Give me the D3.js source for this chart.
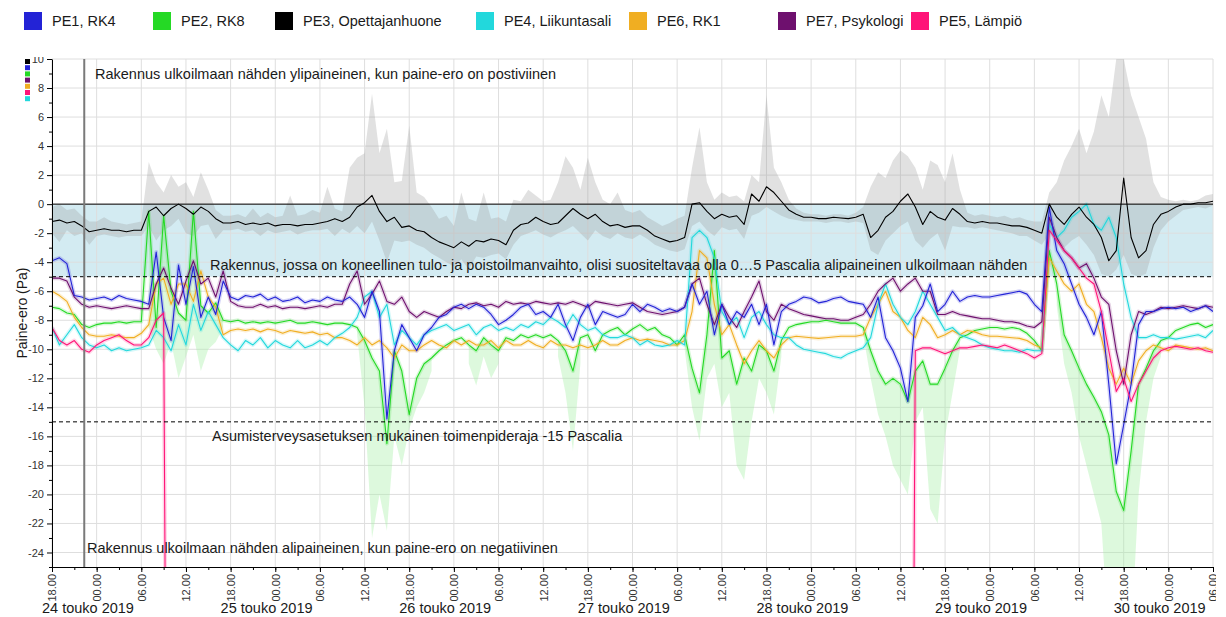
<!DOCTYPE html>
<html>
<head>
<meta charset="utf-8">
<script src="https://cdn.jsdelivr.net/npm/d3@7"></script>
<style>
body { margin: 0; background: #fff; }
svg { font-family: "Liberation Sans", Arial, sans-serif; }
</style>
</head>
<body>
<svg id="chart" width="1226" height="617"></svg>
<script>
// hourly readings (Pa), first value at 24.5.2019 18:00
const startTime = new Date(2019, 4, 24, 18);
const endTime = new Date(2019, 4, 31, 6);

const seriesNames = ["PE1, RK4", "PE2, RK8", "PE3, Opettajanhuone", "PE4, Liikuntasali", "PE6, RK1", "PE7, Psykologi", "PE5, Lämpiö"];
const seriesColors = ["#2323d6", "#25d925", "#000000", "#22d8dc", "#f0ae22", "#6e106e", "#ff1478"];

const pe1 = [
  -3.9,-3.7,-4.1,-6.3,-6.4,-6.6,-6.5,-6.4,-6.6,-6.3,-6.5,-6.6,
  -6.7,-6.9,-3.3,-7.8,-9.4,-4.2,-6.9,-4.3,-7.8,-6.4,-7.6,-5.3,
  -6.4,-6.6,-6.3,-6.4,-6.2,-6.6,-6.4,-6.7,-6.6,-6.4,-6.8,-6.6,
  -6.7,-6.4,-6.6,-6.7,-6.4,-6.9,-7.8,-6.0,-7.4,-14.8,-10.1,-8.3,
  -9.2,-10.1,-9.0,-8.5,-7.8,-7.6,-7.1,-6.9,-7.2,-6.9,-7.1,-7.6,
  -8.3,-8.0,-7.6,-7.1,-6.9,-7.6,-7.4,-7.8,-6.9,-8.3,-9.4,-7.8,
  -6.9,-8.3,-7.4,-7.6,-7.8,-7.6,-6.9,-7.4,-6.9,-7.1,-7.4,-7.2,
  -7.4,-7.1,-5.5,-6.9,-6.0,-9.0,-6.9,-8.3,-7.4,-7.8,-6.9,-8.3,
  -6.9,-9.7,-7.4,-6.9,-6.7,-6.4,-6.5,-6.8,-6.7,-6.5,-6.4,-6.7,
  -6.8,-6.9,-7.8,-6.4,-9.2,-10.1,-11.3,-13.6,-7.8,-7.0,-5.5,-7.4,
  -6.9,-6.0,-6.7,-6.4,-6.3,-6.4,-6.4,-6.3,-6.2,-6.1,-6.0,-6.2,
  -6.9,-7.4,-0.2,-3.2,-4.1,-5.5,-6.9,-7.8,-9.0,-7.4,-12.4,-17.9,
  -15.2,-12.4,-8.3,-7.4,-7.4,-7.2,-7.1,-7.2,-7.1,-7.4,-7.2,-7.0,
  -7.4
];
const pe2 = [
  -7.1,-7.2,-7.5,-7.6,-8.3,-8.5,-8.3,-8.2,-8.2,-8.1,-8.2,-8.1,
  -8.1,-0.5,-8.5,-0.8,-6.0,-7.5,-8.0,-0.5,-7.0,-7.5,-6.8,-8.0,
  -8.1,-8.0,-8.2,-8.1,-8.2,-8.1,-8.2,-8.1,-8.0,-8.2,-8.2,-8.1,
  -8.2,-8.3,-8.2,-8.2,-8.3,-8.5,-9.4,-10.6,-11.5,-16.5,-10.1,-11.5,
  -14.5,-12.0,-11.0,-10.6,-10.1,-9.7,-9.4,-9.2,-9.7,-10.1,-9.2,-9.7,
  -10.1,-9.2,-9.4,-9.0,-9.2,-9.0,-9.2,-9.0,-9.4,-10.1,-11.5,-9.2,
  -9.0,-10.1,-9.0,-8.7,-8.5,-9.0,-8.6,-8.3,-8.7,-8.5,-9.0,-9.2,
  -9.7,-9.0,-11.3,-13.0,-9.0,-3.2,-10.6,-10.1,-12.4,-10.6,-11.5,-9.7,
  -10.1,-11.5,-9.4,-8.5,-8.3,-8.2,-8.1,-8.1,-8.0,-8.1,-8.2,-8.2,
  -8.2,-8.5,-10.1,-11.5,-12.4,-12.0,-12.4,-13.6,-11.5,-10.8,-12.4,-12.4,
  -11.3,-10.1,-9.2,-9.0,-8.7,-8.6,-8.5,-8.5,-8.6,-8.5,-8.6,-8.9,
  -9.4,-10.1,-3.2,-5.5,-9.0,-10.1,-11.3,-12.4,-13.3,-14.3,-15.9,-19.8,
  -21.1,-17.0,-12.4,-11.3,-10.1,-9.4,-9.2,-8.7,-8.5,-8.3,-8.2,-8.5,
  -8.3
];
const pe3 = [
  -1.2,-1.1,-1.3,-1.2,-1.5,-1.9,-1.8,-1.7,-1.8,-1.8,-1.9,-1.8,
  -1.8,-0.5,-0.2,-0.8,-0.3,0.0,-0.3,-0.7,-0.2,-0.5,-1.0,-1.3,
  -1.3,-1.2,-1.4,-1.3,-1.4,-1.3,-1.5,-1.4,-1.4,-1.5,-1.4,-1.4,
  -1.3,-1.2,-1.0,-1.2,-0.9,-0.2,0.1,0.6,-0.5,-1.2,-0.9,-1.6,
  -1.5,-1.8,-1.9,-2.3,-2.6,-2.8,-3.0,-2.6,-2.9,-2.5,-2.6,-2.4,
  -2.5,-2.8,-1.8,-1.4,-1.3,-0.9,-1.2,-1.4,-1.3,-0.8,-0.3,-0.7,
  -1.0,-0.7,-1.2,-1.5,-1.4,-1.6,-1.5,-1.5,-1.8,-2.2,-2.4,-2.6,
  -2.5,-2.3,0.0,0.1,-0.5,-1.0,-0.7,-0.9,-0.8,-1.4,0.7,0.2,
  1.2,0.8,0.2,-0.4,-0.7,-0.9,-0.9,-1.0,-1.0,-0.9,-0.95,-1.0,
  -0.9,-0.7,-2.3,-1.8,-0.9,-0.5,0.2,0.7,-0.2,-1.4,-0.5,-0.9,
  -1.1,-0.3,-0.7,-1.2,-1.3,-1.2,-1.3,-1.3,-1.4,-1.5,-1.5,-1.6,
  -1.8,-2.0,0.0,-0.9,-1.4,-0.7,-0.2,-0.9,-1.4,-2.3,-3.9,-3.2,
  1.8,-2.3,-3.7,-3.2,-1.4,-0.7,-0.5,-0.2,0.0,0.0,0.1,0.1,
  0.2
];
// PE3 hourly maximum and minimum
const pe3Hi = [
  -0.2,0.0,-0.4,-0.3,-0.8,-1.2,-1.2,-0.9,-1.2,-1.3,-1.4,-1.3,
  -1.2,2.9,1.5,0.8,2.0,1.2,1.5,0.5,2.2,1.0,-0.4,-0.8,
  -0.8,-0.7,-0.9,-0.3,-0.9,-0.6,-0.9,-0.8,0.6,-0.8,-0.7,-0.4,
  -0.6,1.2,-0.3,-0.5,2.5,3.2,3.5,7.6,3.5,5.2,1.5,1.6,
  5.4,0.8,0.5,-0.2,-1.0,-0.8,-1.5,0.8,-1.0,-1.2,0.8,-1.0,
  -0.9,-1.2,0.3,0.2,1.0,0.6,0.2,0.3,1.5,3.3,2.5,1.0,
  3.2,1.5,0.3,0.0,0.8,-0.4,-0.6,-0.4,-0.9,-1.2,-1.5,-1.3,
  -1.0,-0.8,2.5,5.3,1.5,0.3,0.8,0.5,0.6,0.2,2.0,1.5,
  7.5,2.5,1.5,0.3,-0.3,-0.6,-0.7,-0.7,-0.8,-0.7,-0.7,-0.8,
  -0.6,-0.2,1.2,2.2,1.8,3.0,3.7,3.3,2.5,1.0,3.0,2.7,
  1.5,3.5,1.0,-0.6,-0.8,-0.7,-0.8,-0.9,-0.8,-1.0,-0.9,-1.1,
  -1.2,-1.2,0.8,1.5,3.0,4.0,5.2,3.5,5.0,7.5,6.0,10.0,
  10.0,7.5,6.0,4.5,1.5,0.5,0.3,0.2,0.3,0.2,0.3,0.6,
  0.7
];
const pe3Lo = [
  -2.0,-2.6,-1.8,-2.2,-2.0,-2.8,-2.2,-2.1,-2.2,-2.3,-2.2,-2.2,
  -2.2,-1.5,-2.5,-1.8,-1.5,-1.0,-2.0,-2.2,-1.5,-1.4,-2.4,-1.8,
  -1.8,-1.7,-1.9,-1.8,-2.2,-1.8,-2.0,-1.9,-1.8,-2.1,-1.9,-1.8,
  -1.8,-1.7,-2.2,-1.7,-2.0,-1.5,-2.0,-1.2,-2.5,-4.0,-2.5,-2.6,
  -2.5,-2.8,-3.0,-3.4,-3.7,-4.0,-4.3,-3.8,-4.5,-3.6,-3.7,-3.5,
  -3.4,-3.8,-2.8,-2.2,-2.0,-1.8,-2.1,-2.3,-2.0,-1.8,-1.5,-2.0,
  -2.5,-1.8,-2.2,-2.4,-2.0,-2.3,-2.4,-2.1,-2.4,-2.8,-3.0,-3.2,
  -3.3,-3.1,-1.5,-1.2,-1.8,-2.2,-1.6,-1.8,-1.7,-2.4,-0.8,-0.6,
  -0.2,-0.5,-0.8,-1.0,-1.1,-1.2,-1.2,-1.2,-1.3,-1.2,-1.2,-1.3,
  -1.2,-1.3,-3.2,-3.5,-2.5,-2.0,-1.5,-1.2,-2.5,-3.0,-2.4,-2.0,
  -3.2,-1.5,-1.6,-1.6,-1.7,-1.6,-1.7,-1.8,-1.9,-2.0,-2.2,-2.2,
  -2.5,-2.8,-2.0,-2.5,-3.0,-2.5,-2.2,-2.8,-3.5,-4.8,-5.0,-4.5,
  -3.5,-4.8,-5.0,-4.8,-3.0,-1.8,-1.2,-0.8,-0.4,-0.3,-0.2,-0.3,
  -0.1
];
const pe4 = [
  -8.5,-9.7,-9.0,-8.3,-9.2,-9.7,-9.9,-9.7,-10.1,-9.9,-10.1,-10.0,
  -9.9,-9.7,-8.7,-9.2,-10.1,-8.3,-9.7,-6.9,-8.7,-7.4,-8.3,-9.2,
  -9.7,-10.1,-9.4,-9.7,-9.2,-9.9,-9.4,-9.7,-9.9,-9.4,-9.9,-9.7,
  -9.4,-9.7,-9.2,-8.9,-8.5,-7.8,-6.4,-6.0,-7.8,-6.9,-9.7,-8.7,
  -9.2,-9.7,-9.0,-8.7,-8.5,-8.3,-8.7,-8.5,-8.3,-9.0,-8.5,-8.3,
  -8.7,-8.5,-8.7,-8.3,-8.5,-8.1,-8.3,-7.8,-8.1,-8.5,-7.6,-8.3,
  -8.7,-8.5,-9.0,-9.2,-9.2,-9.0,-9.2,-9.7,-9.4,-9.7,-9.8,-9.7,
  -9.4,-9.7,-2.3,-1.8,-2.3,-3.7,-7.4,-8.3,-7.8,-9.2,-7.8,-7.4,
  -8.3,-9.0,-9.2,-9.2,-9.7,-10.0,-10.1,-10.2,-10.3,-10.5,-10.6,-10.3,
  -10.1,-9.9,-9.2,-6.9,-5.5,-6.9,-7.8,-8.3,-7.4,-6.0,-6.9,-7.8,
  -8.7,-8.5,-9.0,-9.2,-9.4,-9.7,-9.9,-10.0,-10.1,-10.1,-10.2,-10.0,
  -10.1,-10.1,-1.4,-2.3,-1.8,-0.9,-0.5,0.0,-1.4,-1.8,-0.9,-2.3,
  -5.5,-7.8,-9.2,-9.2,-9.0,-9.2,-9.2,-9.3,-9.2,-9.1,-9.0,-9.2,
  -8.7
];
const pe6 = [
  -6.0,-6.3,-6.7,-7.8,-8.5,-9.0,-9.1,-9.1,-9.0,-9.1,-9.2,-9.2,
  -8.9,-8.3,-5.5,-5.1,-6.9,-5.5,-5.5,-6.7,-4.6,-6.4,-7.1,-9.0,
  -8.7,-8.6,-8.7,-8.6,-8.8,-8.6,-8.7,-8.9,-8.7,-8.8,-8.9,-8.8,
  -9.0,-8.9,-9.2,-9.2,-9.4,-9.7,-9.2,-9.7,-9.4,-9.9,-10.6,-9.7,
  -10.1,-10.1,-9.7,-9.4,-9.7,-9.9,-9.4,-9.7,-9.4,-9.7,-9.7,-9.4,
  -9.9,-9.4,-9.7,-9.7,-9.4,-9.7,-9.9,-9.4,-9.7,-9.7,-9.9,-9.7,
  -9.9,-9.7,-9.4,-9.7,-9.7,-9.4,-9.2,-9.4,-9.3,-9.4,-9.5,-9.7,
  -9.7,-9.4,-7.4,-3.2,-3.7,-6.9,-9.0,-8.3,-9.7,-11.0,-10.1,-9.4,
  -10.1,-10.6,-9.7,-9.2,-9.1,-9.15,-9.2,-9.25,-9.2,-9.15,-9.1,-9.1,
  -9.1,-9.0,-7.8,-6.9,-6.0,-7.4,-7.8,-8.7,-9.2,-7.8,-8.3,-9.2,
  -9.0,-8.7,-9.0,-8.7,-8.8,-9.0,-9.1,-9.1,-9.15,-9.2,-9.25,-9.4,
  -9.7,-9.9,-3.7,-4.6,-5.5,-6.0,-5.5,-6.9,-7.4,-9.2,-11.3,-12.4,
  -11.3,-12.4,-10.8,-10.1,-9.7,-9.9,-10.1,-9.7,-9.8,-9.9,-10.0,-9.9,
  -10.1
];
const pe7 = [
  -5.1,-5.1,-5.3,-6.4,-6.9,-7.1,-7.0,-7.1,-7.2,-7.1,-7.0,-7.1,
  -7.2,-7.2,-5.5,-4.4,-5.8,-6.9,-5.3,-3.9,-5.5,-5.1,-6.4,-4.6,
  -6.7,-7.0,-7.1,-7.1,-6.9,-7.1,-7.0,-7.2,-7.1,-7.1,-7.2,-7.1,
  -7.0,-7.1,-6.9,-6.9,-5.5,-4.6,-6.9,-6.2,-5.3,-6.7,-6.9,-6.4,
  -7.4,-7.8,-7.4,-7.6,-7.8,-7.4,-7.1,-7.2,-6.9,-6.8,-7.0,-6.9,
  -7.1,-6.7,-6.9,-6.8,-6.9,-6.7,-6.8,-6.9,-6.8,-6.9,-6.7,-6.9,
  -7.1,-6.7,-6.8,-6.9,-7.0,-6.9,-6.8,-7.1,-7.4,-7.5,-7.6,-7.5,
  -7.4,-7.1,-5.5,-5.1,-6.9,-8.3,-6.9,-7.8,-8.5,-7.4,-6.4,-5.3,
  -7.4,-8.0,-6.9,-7.2,-7.4,-7.6,-7.7,-7.8,-7.9,-7.9,-8.0,-8.0,
  -7.8,-7.6,-6.9,-6.0,-5.5,-5.1,-6.0,-5.5,-5.1,-6.0,-6.0,-7.6,
  -7.6,-7.4,-7.6,-7.7,-7.8,-7.9,-7.9,-8.0,-8.1,-8.1,-8.2,-8.4,
  -8.5,-8.1,-0.9,-2.3,-3.2,-3.7,-4.4,-4.1,-5.1,-6.4,-6.9,-10.1,
  -12.4,-9.0,-7.4,-7.6,-7.4,-7.1,-7.2,-7.1,-7.0,-7.1,-7.2,-7.0,
  -7.1
];
// PE5 drops out of range between the two parts
const pe5Part1 = [-8.5,-9.4,-9.7,-9.4,-10.0,-10.2,-9.7,-9.4,-9.2,-9.0,-9.4,-9.7,-9.7,-9.2,-8.0,-7.5,-100];
const pe5Part2Start = 115;
const pe5Part2 = [
  -100,-10.1,-9.9,-9.9,-10.1,-10.3,-10.1,-9.9,-9.9,-9.8,-9.7,-9.8,-9.9,-9.7,-9.9,-10.1,-10.3,
  -10.6,-10.3,-1.8,-2.5,-3.2,-3.7,-4.4,-5.1,-5.5,-7.4,-10.1,-12.9,-12.0,-13.6,-12.4,-11.5,
  -10.6,-10.1,-9.9,-9.8,-9.9,-10.0,-9.9,-10.1,-10.2
];
// PE2 hourly minimum during the dips
const pe2LowStarts = [13, 41, 56, 68, 85, 109, 135];
const pe2LowValues = [
  [-8.5,-10.0,-11.0,-9.5,-12.0,-10.5,-9.0,-11.5,-10.0,-9.5,-8.5],
  [-9.0,-14.0,-23.0,-20.0,-22.5,-16.0,-18.0,-15.5,-14.0,-13.0,-11.5],
  [-11.0,-12.5,-10.5,-12.0,-11.0],
  [-10.5,-13.0,-17.0,-11.0],
  [-10.0,-14.0,-16.3,-12.0,-11.0,-14.0,-13.0,-18.0,-19.0,-15.0,-12.0,-13.0,-14.5,-10.5],
  [-9.0,-12.0,-14.5,-16.0,-18.0,-19.0,-20.0,-15.0,-14.0,-21.0,-22.0,-16.0,-13.0,-10.0],
  [-7.0,-11.0,-13.0,-16.0,-18.0,-20.0,-22.0,-30.0,-30.0,-30.0,-30.0,-20.0,-15.0,-12.0,-10.5]
];

const markerTime = new Date(2019, 4, 24, 22, 20);
const refLines = [0, -5, -15];
const dayLabels = [24, 25, 26, 27, 28, 29, 30];
const monthLabel = "touko 2019";
const notes = [
  "Rakennus ulkoilmaan nähden ylipaineinen, kun paine-ero on postiviinen",
  "Rakennus, jossa on koneellinen tulo- ja poistoilmanvaihto, olisi suositeltavaa olla 0…5 Pascalia alipaineinen ulkoilmaan nähden",
  "Asumisterveysasetuksen mukainen toimenpideraja -15 Pascalia",
  "Rakennus ulkoilmaan nähden alipaineinen, kun paine-ero on negatiivinen"
];

// layout
const legendX = [24, 153, 275, 476, 629, 778, 911];
const notePos = [[95, 79], [210, 270], [212, 441], [87, 553]];
const miniKeyOrder = [2, 0, 1, 5, 4, 6, 3];
const drawOrder = [1, 4, 3, 5, 0, 6];

const svg = d3.select("#chart");
const plotLeft = 52, plotRight = 1213, plotTop = 59, plotBottom = 567;

const x = d3.scaleTime().domain([startTime, endTime]).range([plotLeft, plotRight]);
const y = d3.scaleLinear().domain([-25, 10]).range([plotBottom, plotTop]);
const hourAt = t => d3.timeHour.offset(startTime, t);

const defs = svg.append("defs");
defs.append("clipPath").attr("id", "plotClip").append("rect")
  .attr("x", plotLeft).attr("y", plotTop).attr("width", plotRight - plotLeft).attr("height", plotBottom - plotTop);
defs.append("clipPath").attr("id", "yClip").append("rect")
  .attr("x", 0).attr("y", 57).attr("width", plotLeft + 2).attr("height", 540);
defs.append("clipPath").attr("id", "xClip").append("rect")
  .attr("x", 0).attr("y", plotBottom - 2).attr("width", 1216).attr("height", 60);

// band 0..-5
svg.append("rect")
  .attr("x", plotLeft).attr("y", y(0))
  .attr("width", plotRight - plotLeft).attr("height", y(-5) - y(0))
  .attr("fill", "#d3ebf2");

// grid
const grid = svg.append("g");
grid.selectAll(".vg").data(x.ticks(d3.timeHour.every(6))).join("line")
  .attr("x1", d => x(d)).attr("x2", d => x(d))
  .attr("y1", plotTop).attr("y2", plotBottom)
  .attr("stroke", "#dedede").attr("stroke-width", 1);
grid.selectAll(".hg").data(d3.range(-24, 11, 2)).join("line")
  .attr("x1", plotLeft).attr("x2", plotRight)
  .attr("y1", d => y(d)).attr("y2", d => y(d))
  .attr("stroke", "#dedede").attr("stroke-width", 1);

const plot = svg.append("g").attr("clip-path", "url(#plotClip)");

// PE3 min/max envelope
const pe3Env = pe3Hi.map((h, i) => ({t: hourAt(i), hi: h, lo: pe3Lo[i]}));
plot.append("path")
  .datum(pe3Env)
  .attr("fill", "#9a9a9a").attr("fill-opacity", 0.3)
  .attr("d", d3.area().x(d => x(d.t)).y0(d => y(d.lo)).y1(d => y(d.hi)));

// PE2 low envelope
pe2LowStarts.forEach((s, k) => {
  const pts = pe2LowValues[k].map((lo, i) => ({t: hourAt(s + i), lo, hi: pe2[s + i]}));
  plot.append("path")
    .datum(pts)
    .attr("fill", "#a6f0a6").attr("fill-opacity", 0.38)
    .attr("d", d3.area().x(d => x(d.t)).y0(d => y(d.lo)).y1(d => y(d.hi)));
});

const toPoints = (values, start) => values.map((v, i) => ({t: hourAt(start + i), v}));
const seriesParts = [
  [toPoints(pe1, 0)],
  [toPoints(pe2, 0)],
  [toPoints(pe3, 0)],
  [toPoints(pe4, 0)],
  [toPoints(pe6, 0)],
  [toPoints(pe7, 0)],
  [toPoints(pe5Part1, 0), toPoints(pe5Part2, pe5Part2Start)]
];

const line = d3.line().x(d => x(d.t)).y(d => y(d.v));

// soft halo first, then the lines
drawOrder.forEach(i => {
  seriesParts[i].forEach(p => {
    plot.append("path").datum(p)
      .attr("fill", "none").attr("stroke", seriesColors[i])
      .attr("stroke-width", 4).attr("stroke-opacity", 0.18)
      .attr("stroke-linejoin", "round")
      .attr("d", line);
  });
});
drawOrder.concat([2]).forEach(i => {
  seriesParts[i].forEach(p => {
    plot.append("path").datum(p)
      .attr("fill", "none").attr("stroke", seriesColors[i])
      .attr("stroke-width", 1.1)
      .attr("stroke-linejoin", "round")
      .attr("d", line);
  });
});

// reference lines
svg.selectAll(".ref").data(refLines).join("line")
  .attr("x1", plotLeft).attr("x2", plotRight)
  .attr("y1", d => y(d)).attr("y2", d => y(d))
  .attr("stroke", "#000").attr("stroke-width", 1)
  .attr("stroke-dasharray", d => d === 0 ? null : "4,3");

svg.append("line")
  .attr("x1", x(markerTime)).attr("x2", x(markerTime))
  .attr("y1", plotTop).attr("y2", plotBottom)
  .attr("stroke", "#7a7a7a").attr("stroke-width", 2);

// notes
svg.selectAll(".note").data(notes).join("text")
  .attr("x", (d, i) => notePos[i][0]).attr("y", (d, i) => notePos[i][1])
  .attr("font-size", 14.5).attr("fill", "#1a1a1a")
  .text(d => d);

// x axis
const xAxisG = svg.append("g").attr("clip-path", "url(#xClip)");
xAxisG.append("g")
  .attr("transform", `translate(0,${plotBottom})`)
  .call(d3.axisBottom(x).ticks(d3.timeHour.every(3)).tickSize(3).tickFormat("").tickSizeOuter(0))
  .call(g => g.select(".domain").remove());
const xAxis = xAxisG.append("g")
  .attr("transform", `translate(0,${plotBottom})`)
  .call(d3.axisBottom(x).ticks(d3.timeHour.every(6)).tickSize(5).tickSizeOuter(0)
    .tickFormat(d3.timeFormat("%H.%M")));
xAxis.select(".domain").attr("stroke", "#000");
xAxis.selectAll("text")
  .attr("font-size", 11).attr("fill", "#333")
  .attr("transform", "rotate(-90)")
  .attr("x", -7).attr("y", 0).attr("dy", "0.35em")
  .style("text-anchor", "end");

svg.selectAll(".day").data(dayLabels).join("text")
  .attr("x", d => x(new Date(2019, 4, d, 18)) - 10)
  .attr("y", 613)
  .attr("font-size", 14.5).attr("fill", "#1a1a1a")
  .text(d => `${d} ${monthLabel}`);

// y axis
const yAxisG = svg.append("g").attr("clip-path", "url(#yClip)");
yAxisG.append("g")
  .attr("transform", `translate(${plotLeft},0)`)
  .call(d3.axisLeft(y).tickValues(d3.range(-25, 10, 2)).tickSize(3).tickFormat("").tickSizeOuter(0))
  .call(g => g.select(".domain").remove());
const yAxis = yAxisG.append("g")
  .attr("transform", `translate(${plotLeft},0)`)
  .call(d3.axisLeft(y).tickValues(d3.range(-24, 11, 2)).tickSize(5).tickSizeOuter(0)
    .tickPadding(3).tickFormat(d => String(d)));
yAxis.selectAll("text").attr("font-size", 11).attr("fill", "#333");

svg.append("text")
  .attr("transform", `translate(27,${y(-7.5)}) rotate(-90)`)
  .attr("text-anchor", "middle")
  .attr("font-size", 14).attr("fill", "#1a1a1a")
  .text("Paine-ero (Pa)");

// mini colour key by the axis
svg.selectAll(".mini").data(miniKeyOrder).join("rect")
  .attr("x", 25).attr("y", (d, i) => 59 + i * 6.2)
  .attr("width", 5).attr("height", 5)
  .attr("fill", d => seriesColors[d]);

// legend
const legend = svg.selectAll(".leg").data(seriesNames).join("g")
  .attr("transform", (d, i) => `translate(${legendX[i]},12)`);
legend.append("rect")
  .attr("width", 18).attr("height", 18)
  .attr("fill", (d, i) => seriesColors[i]);
legend.append("text")
  .attr("x", 28).attr("y", 14)
  .attr("font-size", 14.5).attr("fill", "#1a1a1a")
  .text(d => d);
</script>
</body>
</html>
